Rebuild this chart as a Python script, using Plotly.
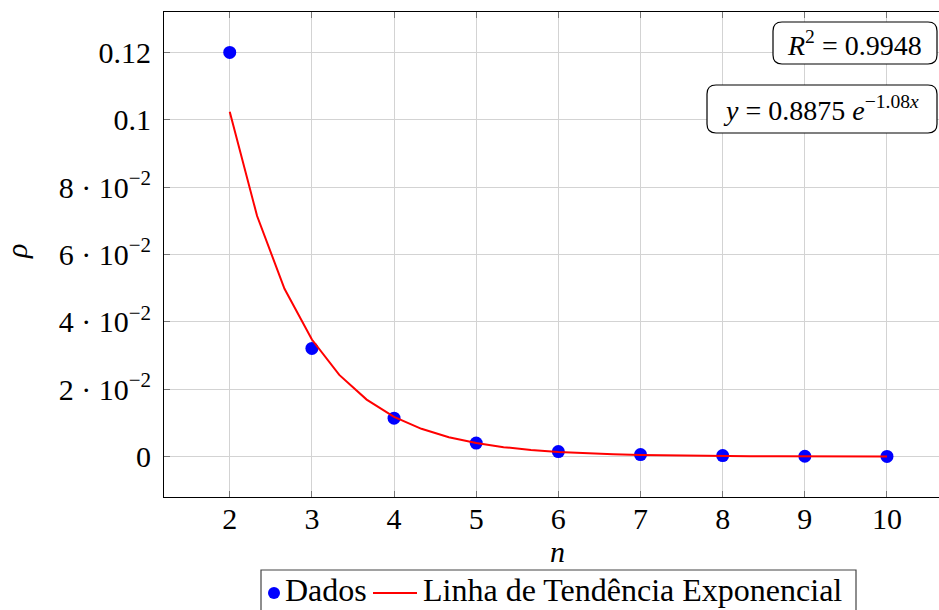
import plotly.graph_objects as go

# Data
n_vals = [2, 3, 4, 5, 6, 7, 8, 9, 10]
rho_vals = [0.12, 0.0321, 0.0114, 0.0040, 0.0015, 0.0006, 0.0003, 0.0001, 0.00005]

trend_x = [2, 2.3333, 2.6667, 3, 3.3333, 3.6667, 4, 4.3333, 4.6667, 5, 5.3333, 5.6667,
           6, 6.3333, 6.6667, 7, 7.3333, 7.6667, 8, 8.3333, 8.6667, 9, 9.3333, 9.6667, 10]
trend_y = [0.10235, 0.07141, 0.04982, 0.03476, 0.02425, 0.01692, 0.01180, 0.00824,
           0.00575, 0.00401, 0.00280, 0.00195, 0.00136, 0.00095, 0.00066, 0.00046,
           0.00032, 0.00023, 0.00016, 0.00011, 0.000077, 0.000054, 0.000037, 0.000026,
           0.000018]

y_tickvals = [0, 0.02, 0.04, 0.06, 0.08, 0.1, 0.12]
y_ticktext = ["0", "2 · 10<sup>−2</sup>", "4 · 10<sup>−2</sup>", "6 · 10<sup>−2</sup>",
              "8 · 10<sup>−2</sup>", "0.1", "0.12"]
x_tickvals = [2, 3, 4, 5, 6, 7, 8, 9, 10]

series_names = ["Dados", "Linha de Tendência Exponencial"]

W, H = 939, 610
L, R, T, B = 164, 0, 12, 113
PW, PH = W - L - R, H - T - B

FONT = "'Liberation Serif', 'Times New Roman', 'DejaVu Serif', serif"

def px2paper(px, py):
    return (px - L) / PW, (H - B - py) / PH

def rounded_rect(x0, y0, x1, y1, r=9):
    def p(x, y):
        a, b = px2paper(x, y)
        return f"{a:.5f},{b:.5f}"
    path = (f"M {p(x0 + r, y0)} L {p(x1 - r, y0)} Q {p(x1, y0)} {p(x1, y0 + r)} "
            f"L {p(x1, y1 - r)} Q {p(x1, y1)} {p(x1 - r, y1)} "
            f"L {p(x0 + r, y1)} Q {p(x0, y1)} {p(x0, y1 - r)} "
            f"L {p(x0, y0 + r)} Q {p(x0, y0)} {p(x0 + r, y0)} Z")
    return dict(type="path", xref="paper", yref="paper", path=path,
                line=dict(color="black", width=1.2), fillcolor="white", layer="above")

def pshape(kind, x0, y0, x1, y1, **kw):
    a0, b0 = px2paper(x0, y0)
    a1, b1 = px2paper(x1, y1)
    return dict(type=kind, xref="paper", yref="paper", x0=a0, y0=b0, x1=a1, y1=b1, **kw)

fig = go.Figure()
fig.add_trace(go.Scatter(x=n_vals, y=rho_vals, mode="markers", name=series_names[0],
                         marker=dict(color="#0000ff", size=13), showlegend=False))
fig.add_trace(go.Scatter(x=trend_x, y=trend_y, mode="lines", name=series_names[1],
                         line=dict(color="#ff0000", width=2), showlegend=False))

fig.update_layout(
    width=W, height=H,
    margin=dict(l=L, r=R, t=T, b=B, autoexpand=False),
    paper_bgcolor="white", plot_bgcolor="white",
    font=dict(family=FONT, size=30, color="black"),
    showlegend=False,
    xaxis=dict(range=[1.2, 10.633], tickvals=x_tickvals, showgrid=True,
               gridcolor="#d3d3d3", gridwidth=1, zeroline=False,
               showline=True, linecolor="black", linewidth=1, mirror="ticks",
               ticks="inside", ticklen=6, tickcolor="#777777",
               tickfont=dict(family=FONT, size=30), ticklabelstandoff=-5),
    yaxis=dict(range=[-0.012, 0.132], tickvals=y_tickvals, ticktext=y_ticktext,
               showgrid=True, gridcolor="#d3d3d3", gridwidth=1, zeroline=False,
               showline=True, linecolor="black", linewidth=1,
               ticks="inside", ticklen=6, tickcolor="#777777",
               tickfont=dict(family=FONT, size=30), ticklabelstandoff=6),
)

shapes = [
    rounded_rect(773, 22, 937, 64),
    rounded_rect(707, 85, 937, 133),
    # legend frame (bottom edge falls outside the canvas)
    pshape("rect", 261, 570, 856, 640, line=dict(color="#444444", width=1.2),
           fillcolor="white", layer="above"),
    pshape("circle", 268, 587, 280, 599, line=dict(width=0), fillcolor="#0000ff",
           layer="above"),
    pshape("line", 373, 593, 417, 593, line=dict(color="#ff0000", width=2),
           layer="above"),
]
fig.update_layout(shapes=shapes)

def ann(text, px, py, size, angle=0, xanchor="center"):
    x, y = px2paper(px, py)
    return dict(text=text, x=x, y=y, xref="paper", yref="paper", showarrow=False,
                xanchor=xanchor, yanchor="middle", textangle=angle,
                font=dict(family=FONT, size=size, color="black"))

fig.update_layout(annotations=[
    ann("<i>R</i><sup>2</sup> = 0.9948", 854, 43, 28),
    ann("<i>y</i> = 0.8875 <i>e</i><sup>−1.08<i>x</i></sup>", 821, 109, 28),
    ann("<i>ρ</i>", 16, 252, 30, angle=-90),
    ann("<i>n</i>", 557, 551, 30),
    ann(series_names[0], 283, 590, 32, xanchor="left"),
    ann(series_names[1], 421, 590, 32, xanchor="left"),
])

fig.write_html("out.html")
